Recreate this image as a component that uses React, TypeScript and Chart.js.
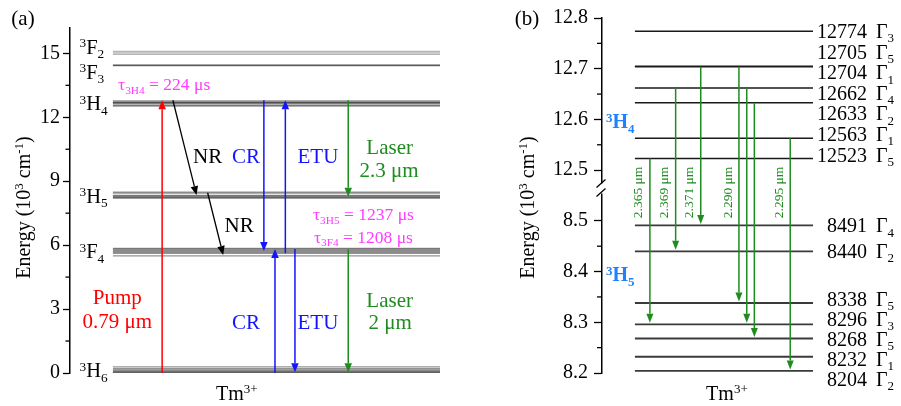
import React, { useEffect, useRef } from 'react';
import { Chart, registerables } from 'chart.js';

Chart.register(...registerables);

const SERIF = '"Liberation Serif", "Times New Roman", Times, serif';
const RED = '#ff0000';
const BLUE = '#1414ff';
const GREEN = '#1e8c1e';
const MAGENTA = '#ff3cff';
const SKY = '#1e82ff';
const BLACK = '#000000';

// ---------------- Panel (a): energy levels of Tm3+ (10^3 cm^-1) ----------------
const A_Y_TICKS = [0, 3, 6, 9, 12, 15];
const A_Y_MINOR = [1.5, 4.5, 7.5, 10.5, 13.5];
const A_Y_MAX = 16.2;

const A_3F2 = [14.95, 15.02, 15.09];
const A_3F3 = [14.43, 14.45];
const A_3H4 = [12.523, 12.563, 12.633, 12.662, 12.704, 12.705, 12.774];
const A_3H5 = [8.204, 8.232, 8.268, 8.296, 8.338, 8.44, 8.491];
const A_3F4 = [5.5, 5.62, 5.67, 5.72, 5.77, 5.81, 5.85];
const A_3H6 = [0, 0.03, 0.06, 0.1, 0.15, 0.21, 0.29];

const A_MANIFOLDS = [
  { term: 'F', j: '2', levels: A_3F2, color: 'rgba(120,120,120,0.55)' },
  { term: 'F', j: '3', levels: A_3F3, color: 'rgba(40,40,40,0.6)' },
  { term: 'H', j: '4', levels: A_3H4, color: 'rgba(40,40,40,0.5)' },
  { term: 'H', j: '5', levels: A_3H5, color: 'rgba(40,40,40,0.5)' },
  { term: 'F', j: '4', levels: A_3F4, color: 'rgba(40,40,40,0.5)' },
  { term: 'H', j: '6', levels: A_3H6, color: 'rgba(40,40,40,0.5)' },
];

// transitions (energies, 10^3 cm^-1)
const A_TR_FROM = [0, 12.8, 8.46, 12.8, 0, 5.62, 5.82, 12.8, 5.8];
const A_TR_TO = [12.8, 8.35, 5.54, 5.72, 5.82, 12.8, 0.03, 8.27, 0.03];
const A_TR_COLOR = [RED, BLACK, BLACK, BLUE, BLUE, BLUE, BLUE, GREEN, GREEN];
// horizontal placement of the arrows (x scale 0..100)
const A_TR_X0 = [24.9, 27.8, 37.2, 52.4, 55.4, 58.2, 60.8, 75.2, 75.2];
const A_TR_X1 = [24.9, 34.2, 41.4, 52.4, 55.4, 58.2, 60.8, 75.2, 75.2];

type Seg = [string, string?];
const A_NOTES: { segs: Seg[]; x: number; y: number; color: string; size: number; align: string }[] = [
  { segs: [['τ'], ['3H4', 'sub'], [' = 224 μs']], x: 13.0, y: 13.54, color: MAGENTA, size: 17.5, align: 'left' },
  { segs: [['NR']], x: 37.2, y: 10.21, color: BLACK, size: 21, align: 'center' },
  { segs: [['CR']], x: 47.6, y: 10.21, color: BLUE, size: 21, align: 'center' },
  { segs: [['ETU']], x: 67.0, y: 10.21, color: BLUE, size: 21, align: 'center' },
  { segs: [['Laser']], x: 86.4, y: 10.6, color: GREEN, size: 21, align: 'center' },
  { segs: [['2.3 μm']], x: 86.2, y: 9.54, color: GREEN, size: 21, align: 'center' },
  { segs: [['NR']], x: 45.7, y: 6.97, color: BLACK, size: 21, align: 'center' },
  { segs: [['τ'], ['3H5', 'sub'], [' = 1237 μs']], x: 79.3, y: 7.46, color: MAGENTA, size: 17.5, align: 'center' },
  { segs: [['τ'], ['3F4', 'sub'], [' = 1208 μs']], x: 79.3, y: 6.4, color: MAGENTA, size: 17.5, align: 'center' },
  { segs: [['Pump']], x: 12.8, y: 3.57, color: RED, size: 21, align: 'center' },
  { segs: [['0.79 μm']], x: 12.8, y: 2.46, color: RED, size: 21, align: 'center' },
  { segs: [['CR']], x: 47.6, y: 2.42, color: BLUE, size: 21, align: 'center' },
  { segs: [['ETU']], x: 67.0, y: 2.42, color: BLUE, size: 21, align: 'center' },
  { segs: [['Laser']], x: 86.4, y: 3.43, color: GREEN, size: 21, align: 'center' },
  { segs: [['2 μm']], x: 86.5, y: 2.42, color: GREEN, size: 21, align: 'center' },
];

// ---------------- Panel (b): Stark levels (cm^-1) ----------------
const B_UP_TICKS = [12.5, 12.6, 12.7, 12.8];
const B_UP_MINOR = [12.55, 12.65, 12.75];
const B_LO_TICKS = [8.2, 8.3, 8.4, 8.5];
const B_LO_MINOR = [8.25, 8.35, 8.45];

const B_H4 = [12774, 12705, 12704, 12662, 12633, 12563, 12523];
const B_H4_GAMMA = ['3', '5', '1', '4', '2', '1', '5'];
const B_H5 = [8491, 8440, 8338, 8296, 8268, 8232, 8204];
const B_H5_GAMMA = ['4', '2', '5', '3', '5', '1', '2'];

const B_TR_FROM = [12523, 12662, 12704, 12704, 12662, 12633, 12563];
const B_TR_TO = [8296, 8440, 8491, 8338, 8296, 8268, 8204];
const B_TR_LABEL = ['2.365 μm', '2.369 μm', '2.371 μm', '2.290 μm', '', '', '2.295 μm'];
const B_TR_X = [22.7, 34.9, 46.8, 64.9, 68.6, 72.2, 89.2];

// ---------------- helpers ----------------
function richText(
  ctx: CanvasRenderingContext2D,
  segs: Seg[],
  x: number,
  y: number,
  size: number,
  color: string,
  align = 'left',
  rotate = 0,
  bold = false
) {
  const f = (k?: string) => `${bold ? 'bold ' : ''}${k ? (size * 0.65).toFixed(1) : size}px ${SERIF}`;
  ctx.save();
  ctx.translate(x, y);
  if (rotate) ctx.rotate(rotate);
  ctx.fillStyle = color;
  ctx.textAlign = 'left';
  ctx.textBaseline = 'alphabetic';
  const widths = segs.map(([t, k]) => {
    ctx.font = f(k);
    return ctx.measureText(t).width;
  });
  const total = widths.reduce((a, b) => a + b, 0);
  let cx = align === 'center' ? -total / 2 : align === 'right' ? -total : 0;
  const base = size * 0.34;
  segs.forEach(([t, k], i) => {
    ctx.font = f(k);
    const dy = k === 'sup' ? -size * 0.32 : k === 'sub' ? size * 0.22 : 0;
    ctx.fillText(t, cx, base + dy);
    cx += widths[i];
  });
  ctx.restore();
}

function arrow(ctx: CanvasRenderingContext2D, x0: number, y0: number, x1: number, y1: number, color: string, lw = 1.5, hl = 9, hw = 7.5) {
  const a = Math.atan2(y1 - y0, x1 - x0);
  const bx = x1 - hl * Math.cos(a);
  const by = y1 - hl * Math.sin(a);
  ctx.save();
  ctx.strokeStyle = color;
  ctx.fillStyle = color;
  ctx.lineWidth = lw;
  ctx.beginPath();
  ctx.moveTo(x0, y0);
  ctx.lineTo(bx, by);
  ctx.stroke();
  ctx.beginPath();
  ctx.moveTo(x1, y1);
  ctx.lineTo(bx + (hw / 2) * Math.sin(a), by - (hw / 2) * Math.cos(a));
  ctx.lineTo(bx - (hw / 2) * Math.sin(a), by + (hw / 2) * Math.cos(a));
  ctx.closePath();
  ctx.fill();
  ctx.restore();
}

// spread label centres (px, ascending) so they keep a given spacing
function spread(desired: number[], gap: number, merge: number): number[] {
  let clusters = desired.map((d, i) => ({ idx: [i], center: d }));
  let changed = true;
  while (changed) {
    changed = false;
    for (let k = 0; k < clusters.length - 1; k++) {
      const a = clusters[k];
      const b = clusters[k + 1];
      const aEnd = a.center + ((a.idx.length - 1) / 2) * gap;
      const bStart = b.center - ((b.idx.length - 1) / 2) * gap;
      if (bStart - aEnd < merge) {
        const idx = [...a.idx, ...b.idx];
        const center = idx.reduce((s, i) => s + desired[i], 0) / idx.length;
        clusters.splice(k, 2, { idx, center });
        changed = true;
        break;
      }
    }
  }
  const out = new Array(desired.length).fill(0);
  clusters.forEach((c) => {
    c.idx.forEach((i, j) => {
      out[i] = c.center + (j - (c.idx.length - 1) / 2) * gap;
    });
  });
  return out;
}

function minorTicks(ctx: CanvasRenderingContext2D, scale: any, vals: number[], x: number, len: number) {
  ctx.save();
  ctx.strokeStyle = BLACK;
  ctx.lineWidth = 1.3;
  vals.forEach((v) => {
    const y = scale.getPixelForValue(v);
    ctx.beginPath();
    ctx.moveTo(x - len, y);
    ctx.lineTo(x, y);
    ctx.stroke();
  });
  ctx.restore();
}

const ENERGY_TITLE: Seg[] = [['Energy (10'], ['3', 'sup'], [' cm'], ['-1', 'sup'], [')']];
const TM_LABEL: Seg[] = [['Tm'], ['3+', 'sup']];

const yAxisBase = (width: number, tickLen: number, pad: number, digits: number) => ({
  type: 'linear',
  position: 'left',
  bounds: 'data',
  afterFit: (s: any) => {
    s.width = width;
  },
  ticks: {
    font: { family: SERIF, size: 20 },
    color: BLACK,
    padding: pad,
    autoSkip: false,
    callback: (v: any) => Number(v).toFixed(digits),
  },
  grid: { display: true, drawOnChartArea: false, drawTicks: true, tickLength: tickLen, tickColor: BLACK, tickWidth: 1.3, color: BLACK },
  border: { display: true, color: BLACK, width: 1.5 },
});

// ---------------- Panel (a) ----------------
function PanelA() {
  const ref = useRef<HTMLCanvasElement>(null);
  useEffect(() => {
    const LEVEL_X0 = 11.6;
    const datasets: any[] = [];
    A_MANIFOLDS.forEach((m) =>
      m.levels.forEach((v) =>
        datasets.push({
          data: [
            { x: LEVEL_X0, y: v },
            { x: 100, y: v },
          ],
          showLine: true,
          borderColor: m.color,
          borderWidth: 1.3,
          pointRadius: 0,
        })
      )
    );

    const plugin = {
      id: 'panelA',
      afterDraw(chart: any) {
        const ctx: CanvasRenderingContext2D = chart.ctx;
        const xs = chart.scales.x;
        const ys = chart.scales.y;
        const ca = chart.chartArea;
        minorTicks(ctx, ys, A_Y_MINOR, ca.left, 4.5);
        // arrows
        A_TR_FROM.forEach((e0, i) => {
          arrow(ctx, xs.getPixelForValue(A_TR_X0[i]), ys.getPixelForValue(e0), xs.getPixelForValue(A_TR_X1[i]), ys.getPixelForValue(A_TR_TO[i]), A_TR_COLOR[i], i === 1 || i === 2 ? 1.3 : 1.5);
        });
        // manifold labels
        const centers = A_MANIFOLDS.map((m) => ys.getPixelForValue(m.levels.reduce((a, b) => a + b, 0) / m.levels.length));
        const ly = spread(centers, 25, 25);
        A_MANIFOLDS.forEach((m, i) => {
          richText(ctx, [['3', 'sup'], [m.term], [m.j, 'sub']], 79.5, ly[i], 20.5, BLACK, 'left');
        });
        // annotations
        A_NOTES.forEach((n) => {
          richText(ctx, n.segs, xs.getPixelForValue(n.x), ys.getPixelForValue(n.y), n.size, n.color, n.align);
        });
        richText(ctx, TM_LABEL, xs.getPixelForValue(45.1), ca.bottom + 20, 20, BLACK, 'center');
        richText(ctx, ENERGY_TITLE, 23, 207.5, 20, BLACK, 'center', -Math.PI / 2);
        richText(ctx, [['(a)']], 23, 18, 21, BLACK, 'center');
      },
    };

    const chart = new Chart(ref.current as HTMLCanvasElement, {
      type: 'scatter',
      data: { datasets },
      options: {
        responsive: false,
        animation: false,
        events: [],
        layout: { padding: { top: 27.8, bottom: 33, left: 0, right: 10 } },
        plugins: { legend: { display: false }, tooltip: { enabled: false } },
        scales: {
          x: { type: 'linear', min: 0, max: 100, display: false },
          y: {
            ...yAxisBase(70, 7, 3, 0),
            min: 0,
            max: A_Y_MAX,
            afterBuildTicks: (s: any) => {
              s.ticks = A_Y_TICKS.map((v) => ({ value: v }));
            },
          },
        },
      } as any,
      plugins: [plugin],
    } as any);
    return () => chart.destroy();
  }, []);
  return <canvas ref={ref} width={450} height={406} style={{ display: 'block' }} />;
}

// ---------------- Panel (b) ----------------
function PanelB() {
  const ref = useRef<HTMLCanvasElement>(null);
  useEffect(() => {
    const LEVEL_X0 = 15.6;
    const datasets: any[] = [];
    B_H4.forEach((v) =>
      datasets.push({
        data: [
          { x: LEVEL_X0, y: v / 1000 },
          { x: 100, y: v / 1000 },
        ],
        yAxisID: 'yUp',
        showLine: true,
        borderColor: '#1a1a1a',
        borderWidth: 1.6,
        pointRadius: 0,
      })
    );
    B_H5.forEach((v) =>
      datasets.push({
        data: [
          { x: LEVEL_X0, y: v / 1000 },
          { x: 100, y: v / 1000 },
        ],
        yAxisID: 'yLow',
        showLine: true,
        borderColor: '#3a3a3a',
        borderWidth: 1.8,
        pointRadius: 0,
      })
    );

    const plugin = {
      id: 'panelB',
      afterDraw(chart: any) {
        const ctx: CanvasRenderingContext2D = chart.ctx;
        const xs = chart.scales.x;
        const yu = chart.scales.yUp;
        const yl = chart.scales.yLow;
        const ca = chart.chartArea;
        minorTicks(ctx, yu, B_UP_MINOR, ca.left, 5);
        minorTicks(ctx, yl, B_LO_MINOR, ca.left, 5);

        // axis break
        const yb = Math.min(yu.bottom, yl.top) - 2;
        ctx.save();
        ctx.fillStyle = '#ffffff';
        ctx.fillRect(ca.left - 2, yb - 5, 4, 10);
        ctx.strokeStyle = BLACK;
        ctx.lineWidth = 1.3;
        ctx.beginPath();
        ctx.moveTo(ca.left - 5.5, yb - 1);
        ctx.lineTo(ca.left + 3.5, yb - 9);
        ctx.moveTo(ca.left - 5.5, yb + 8);
        ctx.lineTo(ca.left + 3.5, yb);
        ctx.stroke();
        ctx.restore();

        // transitions
        B_TR_FROM.forEach((e0, i) => {
          const x = xs.getPixelForValue(B_TR_X[i]);
          const y0 = yu.getPixelForValue(e0 / 1000);
          const y1 = yl.getPixelForValue(B_TR_TO[i] / 1000) - 1.5;
          arrow(ctx, x, y0, x, y1, GREEN, 1.5, 9, 7);
          if (B_TR_LABEL[i]) {
            richText(ctx, [[B_TR_LABEL[i]]], x - 12, yb + 4, 13.5, GREEN, 'center', -Math.PI / 2);
          }
        });

        // level labels
        const upY = spread(B_H4.map((v) => yu.getPixelForValue(v / 1000)), 20.6, 27);
        const loY = spread(B_H5.map((v) => yl.getPixelForValue(v / 1000)), 20, 20);
        const numX = ca.right + 54;
        const gX = ca.right + 63;
        B_H4.forEach((v, i) => {
          richText(ctx, [[String(v)]], numX, upY[i], 20, BLACK, 'right');
          richText(ctx, [['Γ'], [B_H4_GAMMA[i], 'sub']], gX, upY[i], 20, BLACK, 'left');
        });
        B_H5.forEach((v, i) => {
          richText(ctx, [[String(v)]], numX, loY[i], 20, BLACK, 'right');
          richText(ctx, [['Γ'], [B_H5_GAMMA[i], 'sub']], gX, loY[i], 20, BLACK, 'left');
        });

        richText(ctx, [['3', 'sup'], ['H'], ['4', 'sub']], ca.left + 4, yu.getPixelForValue(12.596), 20, SKY, 'left', 0, true);
        richText(ctx, [['3', 'sup'], ['H'], ['5', 'sub']], ca.left + 4, yl.getPixelForValue(8.394), 20, SKY, 'left', 0, true);
        richText(ctx, TM_LABEL, xs.getPixelForValue(59.2), ca.bottom + 20, 20, BLACK, 'center');
        richText(ctx, ENERGY_TITLE, 77, 207.5, 20, BLACK, 'center', -Math.PI / 2);
        richText(ctx, [['(b)']], 77, 18, 21, BLACK, 'center');
      },
    };

    const chart = new Chart(ref.current as HTMLCanvasElement, {
      type: 'scatter',
      data: { datasets },
      options: {
        responsive: false,
        animation: false,
        events: [],
        layout: { padding: { top: 16, bottom: 33, left: 0, right: 88 } },
        plugins: { legend: { display: false }, tooltip: { enabled: false } },
        scales: {
          x: { type: 'linear', min: 0, max: 100, display: false },
          yLow: {
            ...yAxisBase(152, 8, 6, 1),
            stack: 'energy',
            stackWeight: 36,
            min: 8.2,
            max: 8.56,
            afterBuildTicks: (s: any) => {
              s.ticks = B_LO_TICKS.map((v) => ({ value: v }));
            },
          },
          yUp: {
            ...yAxisBase(152, 8, 6, 1),
            stack: 'energy',
            stackWeight: 34,
            min: 12.46,
            max: 12.8,
            afterBuildTicks: (s: any) => {
              s.ticks = B_UP_TICKS.map((v) => ({ value: v }));
            },
          },
        },
      } as any,
      plugins: [plugin],
    } as any);
    return () => chart.destroy();
  }, []);
  return <canvas ref={ref} width={451} height={406} style={{ display: 'block' }} />;
}

export default function App() {
  return (
    <div style={{ position: 'absolute', left: 0, top: 0, width: 901, height: 406, display: 'flex', background: '#fff' }}>
      <PanelA />
      <PanelB />
    </div>
  );
}
